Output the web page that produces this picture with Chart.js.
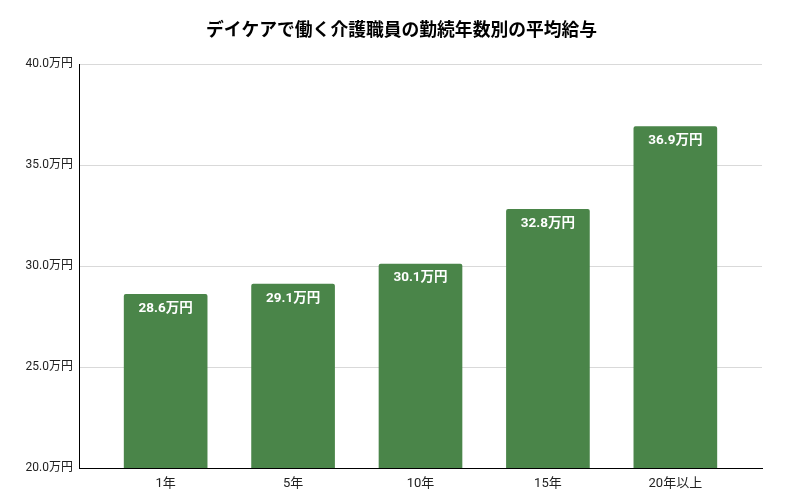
<!DOCTYPE html>
<html>
<head>
<meta charset="utf-8">
<script src="https://cdn.jsdelivr.net/npm/chart.js@4"></script>
<style>
  html, body { margin: 0; padding: 0; background: #fff; }
  #wrap { width: 803px; height: 497px; }
</style>
</head>
<body>
<div id="wrap"><canvas id="myChart"></canvas></div>
<script>
// 勤続年数と平均給与（万円）
const kategorien = ["1年", "5年", "10年", "15年", "20年以上"];
const gehalt = [28.6, 29.1, 30.1, 32.8, 36.9];
const yTicks = [20, 25, 30, 35, 40];
const titel = "デイケアで働く介護職員の勤続年数別の平均給与";

const schrift = "Roboto, 'Noto Sans CJK JP', sans-serif";
const gruen = "#4a8549";

// Werte in die Balken schreiben
const wertePlugin = {
  id: "werte",
  afterDatasetsDraw(chart) {
    const ctx = chart.ctx;
    const meta = chart.getDatasetMeta(0);
    ctx.save();
    ctx.fillStyle = "#ffffff";
    ctx.font = "bold 13.5px " + schrift;
    ctx.textAlign = "center";
    ctx.textBaseline = "middle";
    meta.data.forEach(function (bar, i) {
      ctx.fillText(gehalt[i].toFixed(1) + "万円", bar.x, bar.y + 14);
    });
    ctx.restore();
  }
};

// Titel mittig über der ganzen Fläche
const titelPlugin = {
  id: "titel",
  afterDraw(chart) {
    const ctx = chart.ctx;
    ctx.save();
    ctx.fillStyle = "#000";
    ctx.font = "bold 17.8px " + schrift;
    ctx.textAlign = "center";
    ctx.textBaseline = "middle";
    ctx.fillText(titel, chart.width / 2, 32);
    ctx.restore();
  }
};

const daten = gehalt.map(function (v, i) { return { x: i, y: v }; });

new Chart(document.getElementById("myChart"), {
  type: "bar",
  data: {
    datasets: [{
      data: daten,
      backgroundColor: gruen,
      borderRadius: { topLeft: 2, topRight: 2 },
      borderSkipped: "bottom",
      barThickness: 83
    }]
  },
  options: {
    responsive: true,
    maintainAspectRatio: false,
    animation: false,
    layout: { padding: { left: 0, right: 41, top: 64, bottom: 0 } },
    plugins: {
      legend: { display: false },
      tooltip: { enabled: false },
      title: { display: false }
    },
    scales: {
      x: {
        type: "linear",
        offset: false,
        min: -0.68,
        max: 4.68,
        grid: { display: false, drawTicks: false, offset: false },
        border: { display: true, color: "#000", width: 1 },
        ticks: {
          stepSize: 1,
          includeBounds: false,
          autoSkip: false,
          maxRotation: 0,
          padding: 8,
          color: "#222",
          font: { family: schrift, size: 13 },
          callback: function (v) {
            return Number.isInteger(v) && kategorien[v] !== undefined ? kategorien[v] : "";
          }
        },
        afterFit: function (scale) { scale.height = 29; }
      },
      y: {
        min: 20,
        max: 40,
        afterBuildTicks: function (scale) {
          scale.ticks = yTicks.map(function (v) { return { value: v }; });
        },
        grid: { color: "#d9d9d9", drawTicks: false },
        border: { display: true, color: "#000", width: 1 },
        ticks: {
          padding: 6,
          color: "#222",
          font: { family: schrift, size: 12 },
          callback: function (v) { return v.toFixed(1) + "万円"; }
        },
        afterFit: function (scale) { scale.width = 79; }
      }
    }
  },
  plugins: [wertePlugin, titelPlugin]
});
</script>
</body>
</html>
